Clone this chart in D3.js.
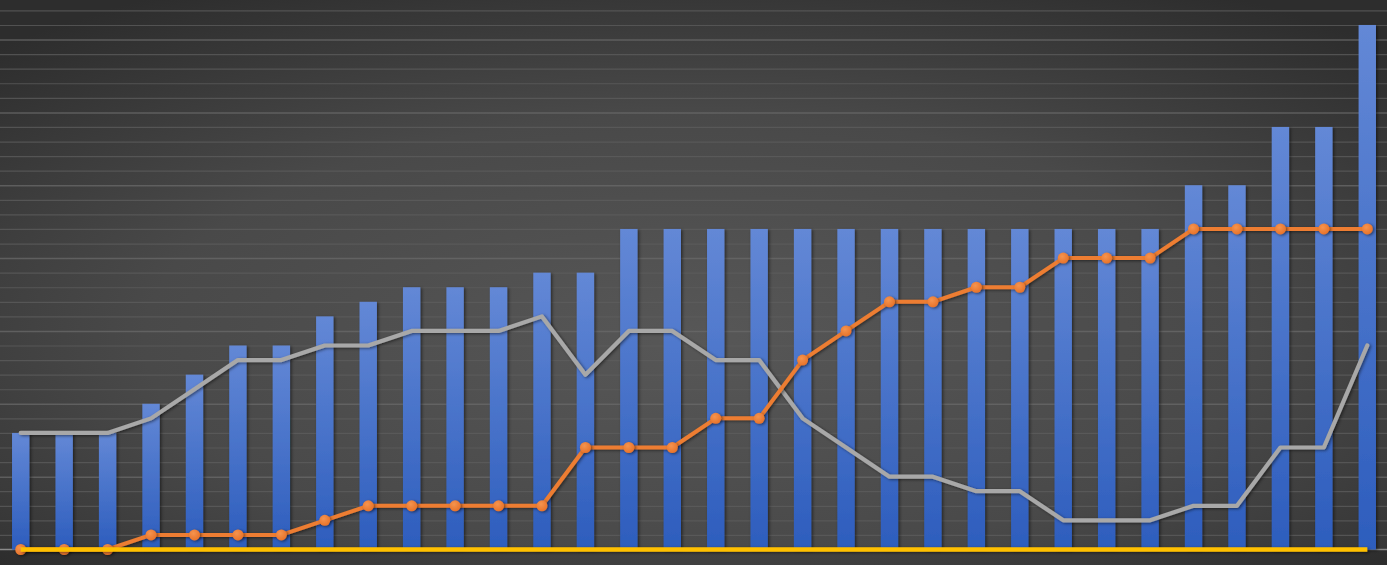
<!DOCTYPE html>
<html>
<head>
<meta charset="utf-8">
<script src="https://cdn.jsdelivr.net/npm/d3@7/dist/d3.min.js"></script>
<style>
html,body{margin:0;padding:0;background:#3a3a3a;overflow:hidden;}
svg{display:block;}
</style>
</head>
<body>
<svg id="chart" width="1387" height="565"></svg>
<script>
const categories = d3.range(1, 33).map(String);
const barValues   = [8,8,8,10,12,14,14,16,17,18,18,18,19,19,22,22,22,22,22,22,22,22,22,22,22,22,22,25,25,29,29,36];
const grayValues  = [8,8,8,9,11,13,13,14,14,15,15,15,16,12,15,15,13,13,9,7,5,5,4,4,2,2,2,3,3,7,7,14];
const orangeValues= [0,0,0,1,1,1,1,2,3,3,3,3,3,7,7,7,9,9,13,15,17,17,18,18,20,20,20,22,22,22,22,22];
const yellowValues= [0,0,0,0,0,0,0,0,0,0,0,0,0,0,0,0,0,0,0,0,0,0,0,0,0,0,0,0,0,0,0,0];
const gridTicks   = d3.range(1, 38);

const W = 1387, H = 565;
const svg = d3.select("#chart");
const defs = svg.append("defs");

const bg = defs.append("radialGradient").attr("id","bg")
  .attr("cx","50%").attr("cy","60%").attr("r","72%");
bg.append("stop").attr("offset","0%").attr("stop-color","#575757");
bg.append("stop").attr("offset","55%").attr("stop-color","#494949");
bg.append("stop").attr("offset","100%").attr("stop-color","#2d2d2d");

const bar = defs.append("linearGradient").attr("id","bar")
  .attr("x1","0").attr("y1","0").attr("x2","0").attr("y2","1");
bar.append("stop").attr("offset","0%").attr("stop-color","#6388d6");
bar.append("stop").attr("offset","100%").attr("stop-color","#2d5dbd");

const sh = defs.append("filter").attr("id","shadow")
  .attr("filterUnits","userSpaceOnUse").attr("x",-20).attr("y",-20).attr("width",W+40).attr("height",H+40);
sh.append("feDropShadow").attr("dx",1.5).attr("dy",1).attr("stdDeviation",1.5).attr("flood-color","#000").attr("flood-opacity",0.5);

const dot = defs.append("radialGradient").attr("id","dot").attr("cx","40%").attr("cy","35%").attr("r","65%");
dot.append("stop").attr("offset","0%").attr("stop-color","#f5944f");
dot.append("stop").attr("offset","100%").attr("stop-color","#e8732a");

svg.append("rect").attr("width",W).attr("height",H).attr("fill","url(#bg)");

const baseY = 549.5;
const x = d3.scaleBand().domain(categories).range([-1, 1389]).paddingInner(0.6).paddingOuter(0.3);
const cx = d => x(d) + x.bandwidth()/2;
const y = d3.scaleLinear().domain([0, baseY/14.57]).range([baseY, 0]);

svg.append("rect").attr("x",0).attr("y",baseY).attr("width",W).attr("height",H-baseY)
  .attr("fill","#000").attr("opacity",0.12);

const grid = svg.append("g").attr("class","grid")
  .call(d3.axisLeft(y).tickValues(gridTicks).tickSize(-W).tickFormat(""));
grid.select(".domain").remove();
grid.selectAll(".tick line")
  .attr("stroke", d => d % 5 === 0 ? "#6a6a6a" : "#5e5e5e")
  .attr("stroke-width", d => d % 5 === 0 ? 1.5 : 1.2)
  .attr("opacity", 0.75);

svg.append("g").attr("transform",`translate(0,${baseY})`)
  .call(d3.axisBottom(x).tickSize(0).tickFormat(""))
  .select(".domain").attr("stroke","#8a8a8a").attr("stroke-width",1.5)
  .attr("d", `M0,0H${W}`);

svg.append("g").selectAll("rect").data(barValues).join("rect")
  .attr("x",(d,i)=>x(categories[i]))
  .attr("width",x.bandwidth())
  .attr("y",d=>y(d))
  .attr("height",d=>baseY-y(d))
  .attr("fill","url(#bar)")
  .attr("filter","url(#shadow)");

const line = d3.line().x((d,i)=>cx(categories[i])).y(d=>y(d));

svg.append("path").datum(grayValues).attr("d",line)
  .attr("fill","none").attr("stroke","#a8a8a8").attr("stroke-width",4.2)
  .attr("stroke-linejoin","round").attr("stroke-linecap","round").attr("filter","url(#shadow)");

svg.append("path").datum(orangeValues).attr("d",line)
  .attr("fill","none").attr("stroke","#ed7d31").attr("stroke-width",4)
  .attr("stroke-linejoin","round").attr("filter","url(#shadow)");
svg.append("g").selectAll("circle").data(orangeValues).join("circle")
  .attr("cx",(d,i)=>cx(categories[i])).attr("cy",d=>y(d)).attr("r",5.5)
  .attr("fill","url(#dot)").attr("filter","url(#shadow)");

svg.append("path").datum(yellowValues).attr("d",line)
  .attr("fill","none").attr("stroke","#ffc000").attr("stroke-width",4.5)
  .attr("filter","url(#shadow)");
</script>
</body>
</html>
